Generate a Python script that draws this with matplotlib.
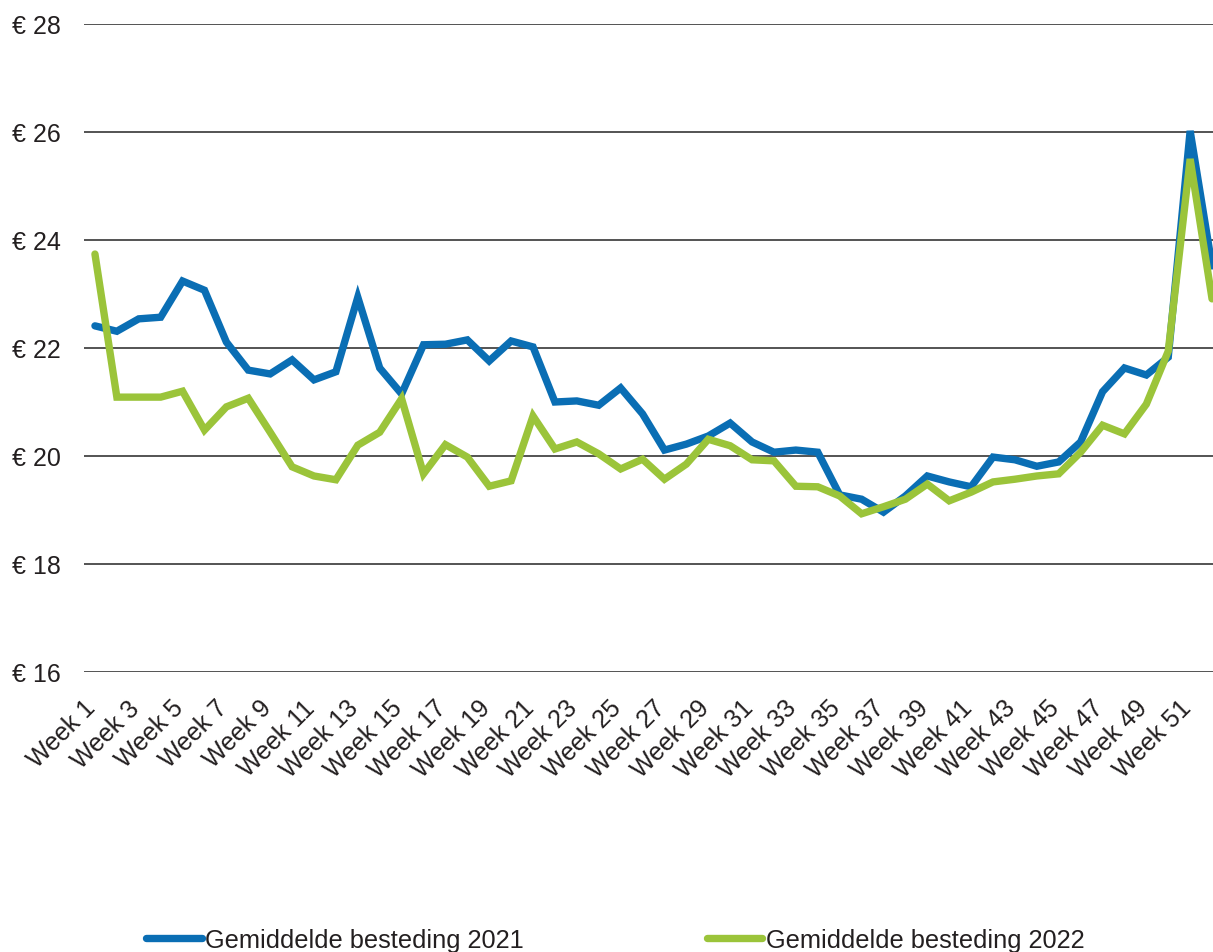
import matplotlib.pyplot as plt
import matplotlib.transforms as mtransforms

plt.rcParams['font.family'] = ['Liberation Sans', 'DejaVu Sans']

weeks = list(range(1, 53))
week_labels = [f"Week {w}" for w in weeks]

# gemiddelde besteding per week (euro)
spend_2021 = [22.41, 22.31, 22.54, 22.57, 23.24, 23.07, 22.11, 21.59, 21.52, 21.78,
              21.41, 21.56, 22.94, 21.63, 21.15, 22.06, 22.07, 22.15, 21.76, 22.13,
              22.02, 21.00, 21.02, 20.94, 21.26, 20.78, 20.11, 20.22, 20.37, 20.61,
              20.26, 20.07, 20.11, 20.07, 19.28, 19.20, 18.96, 19.26, 19.63, 19.52,
              19.43, 19.98, 19.93, 19.81, 19.89, 20.26, 21.19, 21.63, 21.50, 21.83,
              26.02, 23.52]
spend_2022 = [23.74, 21.09, 21.09, 21.09, 21.20, 20.48, 20.91, 21.07, 20.44, 19.80,
              19.63, 19.56, 20.20, 20.44, 21.06, 19.67, 20.21, 19.98, 19.44, 19.54,
              20.74, 20.13, 20.26, 20.04, 19.76, 19.94, 19.57, 19.85, 20.31, 20.19,
              19.93, 19.91, 19.44, 19.43, 19.26, 18.93, 19.06, 19.20, 19.48, 19.17,
              19.33, 19.52, 19.57, 19.63, 19.67, 20.07, 20.57, 20.41, 20.96, 21.94,
              25.50, 22.91]

blue = '#0a6eb4'
green = '#9bc43a'
text_color = '#231f20'

fig = plt.figure(figsize=(12.13, 9.53), dpi=100)
ax = fig.add_axes([84 / 1213, 280 / 953, 1139 / 1213, 648 / 953])

ax.plot(weeks, spend_2021, color=blue, lw=5.3, solid_joinstyle='miter',
        solid_capstyle='round', label='Gemiddelde besteding 2021', zorder=3)
ax.plot(weeks, spend_2022, color=green, lw=5.3, solid_joinstyle='miter',
        solid_capstyle='round', label='Gemiddelde besteding 2022', zorder=4)

ax.set_xlim(0.5, 52.5)
ax.set_ylim(16, 28)
ax.set_yticks(range(16, 29, 2))
ax.set_yticklabels([f"€ {v}" for v in range(16, 29, 2)])
ax.yaxis.grid(True, color='#454545', lw=1.3)
ax.set_axisbelow(True)

ax.set_xticks(weeks[::2])
ax.set_xticklabels(week_labels[::2], rotation=45, ha='right', va='center',
                   rotation_mode='anchor')
ax.tick_params(axis='both', length=0, labelsize=18, colors=text_color)
ax.tick_params(axis='y', pad=17)
ax.tick_params(axis='x', pad=23)

# nudge the slanted week labels a little to the left
shift = mtransforms.ScaledTranslation(-3 / 100, 0, fig.dpi_scale_trans)
for lbl in ax.get_xticklabels():
    lbl.set_transform(lbl.get_transform() + shift)

for side in ['top', 'right', 'bottom', 'left']:
    ax.spines[side].set_visible(False)

leg = fig.legend(loc='center', bbox_to_anchor=(0.507, 0.013), ncol=2, frameon=False,
                 fontsize=18.3, handlelength=2.2, handletextpad=0.12, columnspacing=7.2,
                 labelcolor=text_color)
for line in leg.get_lines():
    line.set_solid_capstyle('round')
    line.set_linewidth(5.3)

fig.savefig('out.png', dpi=100)
